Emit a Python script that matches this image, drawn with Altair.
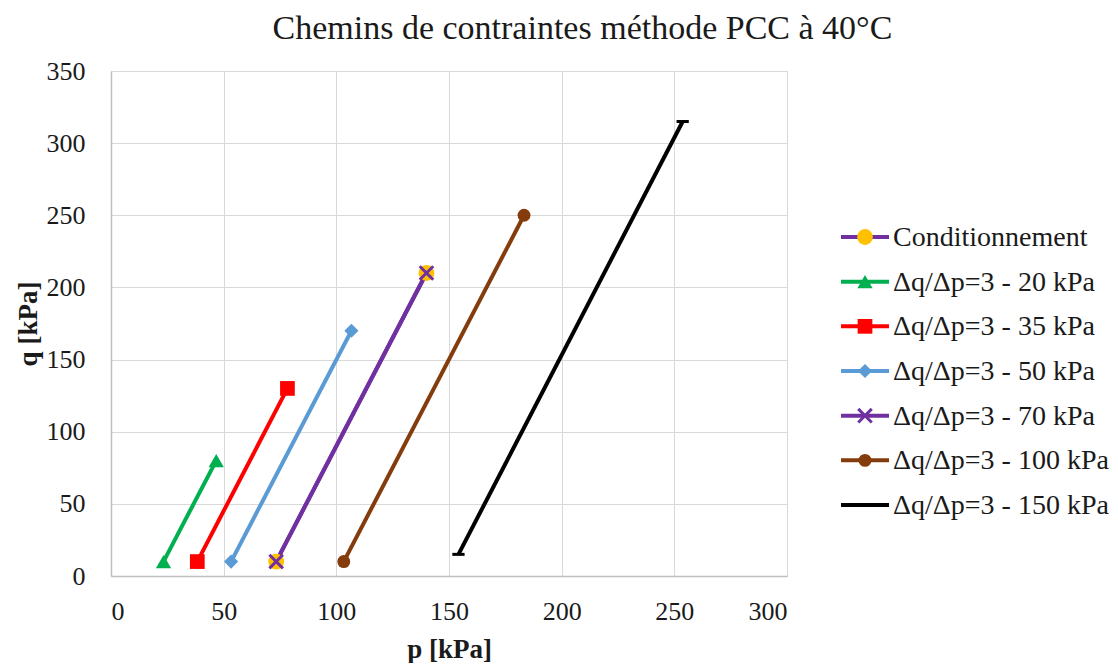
import altair as alt
import pandas as pd

# ---- data ----
series = [
    "Conditionnement",
    "Δq/Δp=3 - 20 kPa",
    "Δq/Δp=3 - 35 kPa",
    "Δq/Δp=3 - 50 kPa",
    "Δq/Δp=3 - 70 kPa",
    "Δq/Δp=3 - 100 kPa",
    "Δq/Δp=3 - 150 kPa",
]
p_start = [73.3, 23.3, 38.3, 53.3, 73.3, 103.3, 154.2]
p_end = [140.0, 46.7, 78.3, 106.7, 140.0, 183.3, 253.7]
q_start = [10, 10, 10, 10, 10, 10, 15]
q_end = [210, 80, 130, 170, 210, 250, 315]

x_ticks = [0, 50, 100, 150, 200, 250, 300]
y_ticks = [0, 50, 100, 150, 200, 250, 300, 350]

# ---- styles ----
line_colors = ["#7030A0", "#00B050", "#FF0000", "#5B9BD5", "#7030A0", "#843C0C", "#000000"]
marker_colors = ["#FFC000", "#00B050", "#FF0000", "#5B9BD5", "#7030A0", "#843C0C", "#000000"]
X_PATH = "M-1,-1L1,1M-1,1L1,-1"
DASH_PATH = "M-1,0L1,0"
shapes = ["circle", "triangle-up", "square", "diamond", X_PATH, "circle", DASH_PATH]
sizes = [250, 150, 170, 90, 110, 150, 150]
leg_sizes = [250, 110, 150, 80, 110, 150, 150]
filled_series = [series[i] for i in (0, 1, 2, 3, 5)]
stroked_series = [series[i] for i in (4, 6)]

FONT = "Liberation Serif"

rows = []
for s, p0, p1, q0, q1 in zip(series, p_start, p_end, q_start, q_end):
    rows.append({"serie": s, "p": p0, "q": q0})
    rows.append({"serie": s, "p": p1, "q": q1})
df = pd.DataFrame(rows)
df_leg = pd.DataFrame({"serie": series})

color_scale = alt.Scale(domain=series, range=line_colors)
fill_scale = alt.Scale(domain=series, range=marker_colors)
shape_scale = alt.Scale(domain=series, range=shapes)
size_scale = alt.Scale(domain=series, range=sizes)
leg_size_scale = alt.Scale(domain=series, range=leg_sizes)

x_enc = alt.X(
    "p:Q",
    scale=alt.Scale(domain=[0, 300], nice=False),
    axis=alt.Axis(
        values=x_ticks, title="p [kPa]", labelPadding=22, titlePadding=12,
        grid=True,
    ),
)
y_enc = alt.Y(
    "q:Q",
    scale=alt.Scale(domain=[0, 350], nice=False),
    axis=alt.Axis(
        values=y_ticks, title="q [kPa]", labelPadding=26, titlePadding=4,
        grid=True,
    ),
)

base = alt.Chart(df)

lines = base.mark_line(strokeWidth=4).encode(
    x=x_enc,
    y=y_enc,
    color=alt.Color("serie:N", scale=color_scale, legend=None),
    detail="serie:N",
)

pts_filled = base.transform_filter(
    alt.FieldOneOfPredicate(field="serie", oneOf=filled_series)
).mark_point(filled=True, opacity=1, strokeWidth=0).encode(
    x="p:Q",
    y="q:Q",
    fill=alt.Fill("serie:N", scale=fill_scale, legend=None),
    shape=alt.Shape("serie:N", scale=shape_scale, legend=None),
    size=alt.Size("serie:N", scale=size_scale, legend=None),
)

pts_stroked = base.transform_filter(
    alt.FieldOneOfPredicate(field="serie", oneOf=stroked_series)
).mark_point(filled=False, opacity=1, strokeWidth=3).encode(
    x="p:Q",
    y="q:Q",
    stroke=alt.Stroke("serie:N", scale=fill_scale, legend=None),
    shape=alt.Shape("serie:N", scale=shape_scale, legend=None),
    size=alt.Size("serie:N", scale=size_scale, legend=None),
)

main = alt.layer(lines, pts_filled, pts_stroked).properties(
    width=676, height=505,
    view=alt.ViewBackground(stroke="#d9d9d9", strokeWidth=1),
)

# ---- legend panel ----
y_leg = alt.Y(
    "serie:N",
    scale=alt.Scale(type="point", domain=series, range=[166, 434], padding=0),
    axis=None,
)
lb = alt.Chart(df_leg)
leg_rule = lb.mark_rule(strokeWidth=4).encode(
    x=alt.value(0), x2=alt.value(48), y=y_leg,
    color=alt.Color("serie:N", scale=color_scale, legend=None),
)
leg_filled = lb.transform_filter(
    alt.FieldOneOfPredicate(field="serie", oneOf=filled_series)
).mark_point(filled=True, opacity=1, strokeWidth=0).encode(
    x=alt.value(24), y=y_leg,
    fill=alt.Fill("serie:N", scale=fill_scale, legend=None),
    shape=alt.Shape("serie:N", scale=shape_scale, legend=None),
    size=alt.Size("serie:N", scale=leg_size_scale, legend=None),
)
leg_stroked = lb.transform_filter(
    alt.FieldOneOfPredicate(field="serie", oneOf=stroked_series)
).mark_point(filled=False, opacity=1, strokeWidth=3).encode(
    x=alt.value(24), y=y_leg,
    stroke=alt.Stroke("serie:N", scale=fill_scale, legend=None),
    shape=alt.Shape("serie:N", scale=shape_scale, legend=None),
    size=alt.Size("serie:N", scale=leg_size_scale, legend=None),
)
leg_text = lb.mark_text(
    align="left", baseline="middle", font=FONT, fontSize=28, color="#1a1a1a", dy=1,
).encode(
    x=alt.value(52), y=y_leg, text="serie:N",
)
legend_panel = alt.layer(leg_rule, leg_filled, leg_stroked, leg_text).properties(
    width=215, height=505,
    view=alt.ViewBackground(stroke="transparent"),
)

chart = alt.hconcat(main, legend_panel, spacing=50).resolve_scale(
    x="independent", y="independent",
).properties(
    title=alt.TitleParams(
        "Chemins de contraintes méthode PCC à 40°C",
        font=FONT, fontSize=34, fontWeight="normal", color="#1a1a1a",
        anchor="middle", dx=21, offset=12,
    ),
    padding={"left": 5, "top": 3, "right": 0, "bottom": 0},
).configure_axis(
    labelFont=FONT, labelFontSize=26, labelColor="#1a1a1a",
    titleFont=FONT, titleFontSize=27, titleFontWeight="bold", titleColor="#1a1a1a",
    gridColor="#d9d9d9", gridWidth=1,
    domainColor="#bfbfbf", domainWidth=1.5,
    ticks=False,
).configure_view(stroke="#d9d9d9")

chart.save("out.html", embed_options={"renderer": "svg", "actions": False})
